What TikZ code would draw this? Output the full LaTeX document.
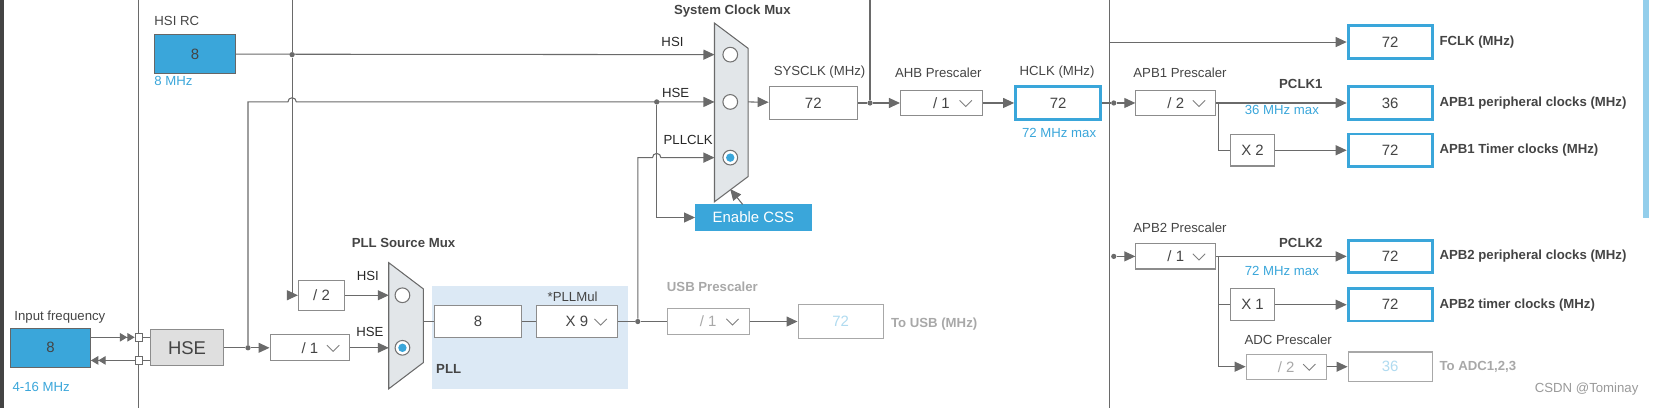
\documentclass[tikz,border=0pt]{standalone}
\usepackage{fontspec}
\setmainfont{Liberation Sans}
\usetikzlibrary{arrows.meta,positioning,calc}
\definecolor{stblue}{HTML}{3AA6DA}
\definecolor{pllbg}{HTML}{DCE9F5}
\definecolor{muxfill}{HTML}{E2E6E9}
\definecolor{wiregray}{HTML}{6A6A6A}
\definecolor{offgray}{HTML}{A8A8A8}
\definecolor{labgray}{HTML}{444444}
\def\u{0.021cm}
\begin{document}
\begin{tikzpicture}[
    x=0.021cm, y=-0.021cm,
    >={Triangle[length=2.2mm,width=2mm]},
    font=\fontsize{7.5}{9}\selectfont,
    wire/.style={draw=wiregray, line width=0.6pt},
    box/.style={rectangle, draw=gray!90, fill=white, line width=0.6pt, font=\fontsize{8.5}{10}\selectfont, text=labgray, inner sep=0pt},
    outbox/.style={box, draw=stblue, line width=1.6pt, minimum width=80*\u, minimum height=31*\u},
    bluebox/.style={box, draw=gray!80!black, fill=stblue, text=labgray},
    drop/.style={box, path picture={\draw[gray, line width=0.5pt] ([xshift=-13pt,yshift=1.5pt]path picture bounding box.east) -- ++(3.5pt,-3.5pt) -- ++(3.5pt,3.5pt);}},
    off/.style={draw=offgray, text=offgray},
    lab/.style={text=labgray, inner sep=1pt},
    bold/.style={text=labgray, font=\fontsize{7.5}{9}\selectfont\bfseries, inner sep=1pt},
    hint/.style={text=stblue, inner sep=1pt},
    dot/.style={circle, fill=wiregray, inner sep=0pt, minimum size=5*\u},
    sel/.style={circle, draw=gray!90!black, fill=white, line width=0.6pt, minimum size=14*\u, inner sep=0pt},
    port/.style={rectangle, draw=wiregray, fill=white, inner sep=0pt, minimum size=7*\u}
  ]
    \useasboundingbox (0,0) rectangle (1577,388.5);

    % frame lines
    \draw[labgray, line width=2.2pt] (2,0) -- (2,388.5);
    \draw[wire] (132,0) -- (132,388.5);
    \draw[wire] (1056,0) -- (1056,388.5);
    \fill[stblue!55] (1564,0) rectangle (1569,207);

    % muxes and PLL area
    \fill[pllbg] (411,272) rectangle (598,370);
    \draw[wire, fill=muxfill] (680,22) -- (712,46) -- (712,168) -- (680,192) -- cycle;
    \draw[wire, fill=muxfill] (370,250) -- (403,275) -- (403,345) -- (370,370) -- cycle;
    \node[sel] (selhsi) at (695,52) {};
    \node[sel] (selhse) at (695,97) {};
    \node[sel] (selpll) at (695,150) {};
    \fill[stblue] (selpll) circle (4*\u);
    \node[sel] (psrchsi) at (383,281) {};
    \node[sel] (psrchse) at (383,331) {};
    \fill[stblue] (psrchse) circle (4*\u);
    \coordinate (smuxhsi) at (680,52);
    \coordinate (smuxhse) at (680,97);
    \coordinate (smuxpll) at (680,150);
    \coordinate (smuxout) at (712,97);
    \coordinate (smuxbot) at (695,180);
    \coordinate (pmuxhsi) at (370,281);
    \coordinate (pmuxhse) at (370,331);
    \coordinate (pmuxout) at (403,306);
    \node[bold] at (697,11) {System Clock Mux};
    \node[bold] at (384,231) {PLL Source Mux};
    \node[bold] at (427,351) {PLL};

    % sources
    \node[lab, anchor=west] at (145,20) {HSI RC};
    \node[bluebox, minimum width=77*\u, minimum height=37*\u] (hsirc) at (185.5,51.5) {8};
    \node[hint, anchor=west] at (145,77) {8 MHz};
    \node[lab] at (57,302) {Input frequency};
    \node[bluebox, minimum width=76*\u, minimum height=37*\u] (infreq) at (48,331) {8};
    \node[hint, anchor=west] at (10,368) {4-16 MHz};
    \node[port] (portin) at (132,321) {};
    \node[port] (portout) at (132,343) {};
    \node[box, fill=gray!25, minimum width=70*\u, minimum height=34*\u, font=\fontsize{10.5}{12}\selectfont] (hse) at (178,331) {HSE};

    % PLL chain
    \node[drop, minimum width=76*\u, minimum height=25*\u] (hsediv) at (295,331) {/ 1\hspace{6mm}};
    \node[box, minimum width=44*\u, minimum height=29*\u] (hsidiv) at (306,281) {/ 2};
    \node[box, minimum width=83*\u, minimum height=31*\u] (pllin) at (455,306) {8};
    \node[drop, minimum width=77*\u, minimum height=31*\u] (pllmul) at (549,306) {X 9\hspace{6mm}};
    \node[lab] at (545,282) {*PLLMul};
    \node[drop, off, minimum width=78*\u, minimum height=24*\u] (usbdiv) at (674,306) {/ 1\hspace{6mm}};
    \node[lab, text=offgray, font=\fontsize{7.5}{9}\selectfont\bfseries] at (678,273) {USB Prescaler};
    \node[box, off, text=stblue!40, minimum width=81*\u, minimum height=32*\u] (usbout) at (800,306) {72};
    \node[bold, text=offgray, anchor=west] at (846,308) {To USB (MHz)};

    % system clock
    \node[box, fill=stblue, draw=stblue, text=white, minimum width=110*\u, minimum height=24*\u, font=\fontsize{8.5}{10}\selectfont] (css) at (717,207) {Enable CSS};
    \node[box, minimum width=84*\u, minimum height=31*\u] (sysclk) at (774,98) {72};
    \node[lab] at (780,69) {SYSCLK (MHz)};
    \node[drop, minimum width=78*\u, minimum height=24*\u] (ahb) at (896,98) {/ 1\hspace{6mm}};
    \node[lab] at (893,69) {AHB Prescaler};
    \node[outbox, minimum width=81*\u, minimum height=32*\u] (hclk) at (1007,98) {72};
    \node[lab] at (1006,69) {HCLK (MHz)};
    \node[hint] at (1008,127) {72 MHz max};

    % buses
    \node[outbox] (fclk) at (1323,40) {72};
    \node[bold, anchor=west] at (1368,40) {FCLK (MHz)};
    \node[drop, minimum width=76*\u, minimum height=24*\u] (apb1) at (1119,98) {/ 2\hspace{6mm}};
    \node[lab] at (1123,69) {APB1 Prescaler};
    \node[outbox] (pclk1) at (1323,98) {36};
    \node[bold] at (1238,80) {PCLK1};
    \node[hint] at (1220,105) {36 MHz max};
    \node[bold, anchor=west] at (1368,98) {APB1 peripheral clocks (MHz)};
    \node[box, minimum width=42*\u, minimum height=30*\u] (x2) at (1192,143) {X 2};
    \node[outbox] (tim1) at (1323,143) {72};
    \node[bold, anchor=west] at (1368,143) {APB1 Timer clocks (MHz)};
    \node[drop, minimum width=76*\u, minimum height=24*\u] (apb2) at (1119,244) {/ 1\hspace{6mm}};
    \node[lab] at (1123,217) {APB2 Prescaler};
    \node[outbox] (pclk2) at (1323,244) {72};
    \node[bold] at (1238,231) {PCLK2};
    \node[hint] at (1220,258) {72 MHz max};
    \node[bold, anchor=west] at (1368,244) {APB2 peripheral clocks (MHz)};
    \node[box, minimum width=42*\u, minimum height=30*\u] (x1) at (1192,290) {X 1};
    \node[outbox] (tim2) at (1323,290) {72};
    \node[bold, anchor=west] at (1368,290) {APB2 timer clocks (MHz)};
    \node[drop, off, minimum width=76*\u, minimum height=24*\u] (adcdiv) at (1224,349) {/ 2\hspace{6mm}};
    \node[lab] at (1226,323) {ADC Prescaler};
    \node[box, off, text=stblue!40, minimum width=80*\u, minimum height=28*\u] (adcout) at (1323,349) {36};
    \node[bold, text=offgray, anchor=west] at (1368,349) {To ADC1,2,3};
    \node[text=gray!80] at (1510,370) {CSDN @Tominay};

    % junctions
    \node[dot] (jhsi) at (278,52) {};
    \node[dot] (jhse) at (236,331) {};
    \node[dot] (jcss) at (625,97) {};
    \node[dot] (jpll) at (607,306) {};
    \node[dot] (jsys) at (828,98) {};
    \node[dot] (japb1) at (1060,98) {};
    \node[dot] (japb2) at (1060,244) {};

    % wires
    \draw[wire, ->] (hsirc) -- (smuxhsi);
    \node[lab, text=black!85] at (640,40) {HSI};
    \draw[wire] (278,0) -- (jhsi);
    \draw[wire, ->] (jhsi) |- (hsidiv);
    \draw[wire, ->] (hsidiv) -- (pmuxhsi);
    \node[lab, text=black!85] at (350,263) {HSI};
    \draw[wire, {Triangle[]Triangle[]}-] (portin) -- (infreq.east |- portin);
    \draw[wire, {Triangle[]Triangle[]}-] (infreq.east |- portout) -- (portout);
    \draw[wire] (portin) -- (hse.west |- portin);
    \draw[wire] (portout) -- (hse.west |- portout);
    \draw[wire] (hse) -- (jhse);
    \draw[wire, ->] (jhse) -- (hsediv);
    \draw[wire, ->] (hsediv) -- (pmuxhse);
    \node[lab, text=black!85] at (352,316) {HSE};
    \draw[wire, ->] (jhse) -- (236,97) -- (274,97) arc[start angle=180, end angle=0, radius=4*\u] -- (smuxhse);
    \node[lab, text=black!85] at (643,88) {HSE};
    \draw[wire, ->] (jcss) |- (css);
    \draw[wire, ->] (css) -- (smuxbot);
    \draw[wire] (pmuxout) -- (pllin);
    \draw[wire] (pllin) -- (pllmul);
    \draw[wire] (pllmul) -- (jpll);
    \draw[wire] (jpll) -- (usbdiv);
    \draw[wire, ->] (usbdiv) -- (usbout);
    \draw[wire, ->] (jpll) -- (607,150) -- (621,150) arc[start angle=180, end angle=0, radius=4*\u] -- (smuxpll);
    \node[lab, text=black!85] at (655,133) {PLLCLK};
    \draw[wire, ->] (smuxout) -- (sysclk);
    \draw[wire] (sysclk) -- (jsys);
    \draw[wire] (828,0) -- (jsys);
    \draw[wire, ->] (jsys) -- (ahb);
    \draw[wire, ->] (ahb) -- (hclk);
    \draw[wire] (hclk) -- (japb1);
    \draw[wire, ->] (1056,40) -- (fclk);
    \draw[wire, ->] (japb1) -- (apb1);
    \draw[wire, ->] (apb1) -- (pclk1);
    \draw[wire] (1160,98) |- (x2);
    \draw[wire, ->] (x2) -- (tim1);
    \draw[wire, ->] (japb2) -- (apb2);
    \draw[wire, ->] (apb2) -- (pclk2);
    \draw[wire] (1160,244) |- (x1);
    \draw[wire, ->] (x1) -- (tim2);
    \draw[wire, ->] (1160,290) |- (adcdiv);
    \draw[wire, ->] (adcdiv) -- (adcout);
\end{tikzpicture}
\end{document}
